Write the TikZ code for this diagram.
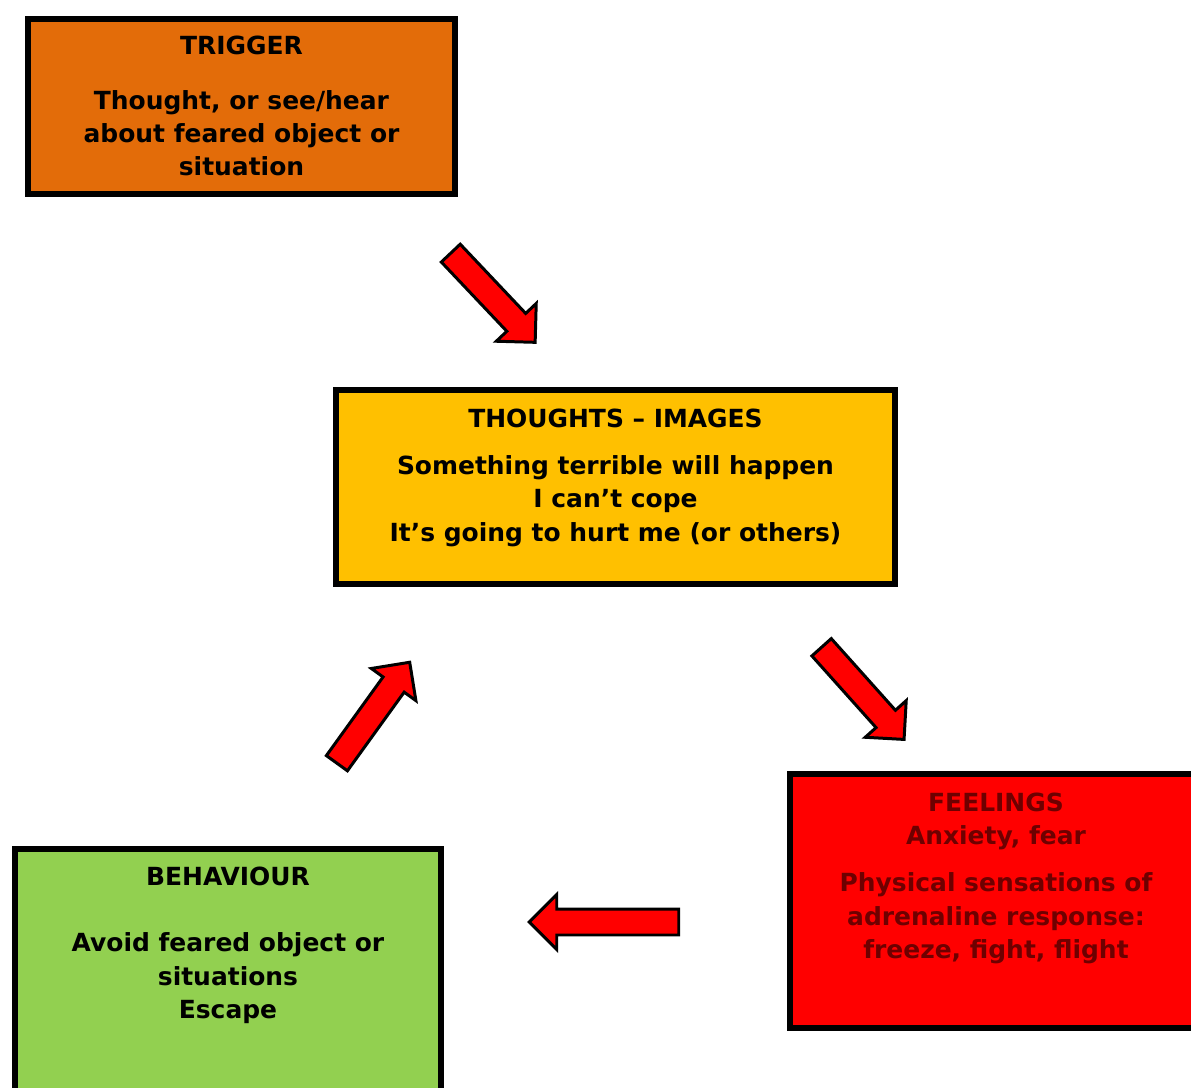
\documentclass[tikz,border=0pt]{standalone}
\usepackage{fontspec}
\setmainfont{DejaVu Sans}
\usetikzlibrary{calc,shapes.arrows}
\definecolor{trigorange}{HTML}{E36C09}
\definecolor{thoughtyellow}{HTML}{FFC000}
\definecolor{feelred}{HTML}{FF0000}
\definecolor{behavgreen}{HTML}{92D050}
\definecolor{feeltext}{HTML}{6E0000}
\tikzset{
	box/.style={rectangle,draw=black,line width=3.4pt,inner sep=0pt},
	txt/.style={anchor=north,align=center,inner sep=0pt,font=\bfseries\fontsize{14.2}{18.9}\selectfont},
	blockarrow/.style={single arrow,draw=black,fill=red,line width=1.7pt,inner xsep=0pt,inner ysep=0.23cm,
		single arrow head extend=0.29cm,single arrow head indent=0pt}
}
\begin{document}
\begin{tikzpicture}[x=0.02cm,y=-0.02cm,line join=miter]
		\useasboundingbox (0,0) rectangle (1191,1088);
		\clip (0,0) rectangle (1191,1088);
		% boxes
		\node[box,fill=trigorange,minimum width=8.54cm,minimum height=3.5cm] (trigger) at (241.5,106.5) {};
		\node[box,fill=thoughtyellow,minimum width=11.18cm,minimum height=3.88cm] (thoughts) at (615.5,487) {};
		\node[box,fill=feelred,minimum width=8.24cm,minimum height=5.08cm] (feelings) at (996,901) {};
		\node[box,fill=behavgreen,minimum width=8.52cm,minimum height=5.22cm] (behaviour) at (228,979.5) {};
		% texts
		\node[txt] (triggertxt) at (241.5,36) {TRIGGER\\[12pt]Thought, or see/hear\\about feared object or\\situation};
		\node[txt] (thoughtstxt) at (615.5,408.5) {THOUGHTS – IMAGES\\[8pt]Something terrible will happen\\I can’t cope\\It’s going to hurt me (or others)};
		\node[txt,text=feeltext] (feelingstxt) at (996,792.5) {FEELINGS\\Anxiety, fear\\[8pt]Physical sensations of\\adrenaline response:\\freeze, fight, flight};
		\node[txt] (behaviourtxt) at (228,866.5) {BEHAVIOUR\\[19pt]Avoid feared object or\\situations\\Escape};
		% arrows
		\coordinate (s1) at (445,247);   \coordinate (t1) at (532,339);
		\coordinate (s2) at (816,641);   \coordinate (t2) at (901,736);
		\coordinate (s3) at (687,922);   \coordinate (t3) at (534,922);
		\coordinate (s4) at (332,770);   \coordinate (t4) at (407,666);
		\foreach \i in {1,...,4}{
			\path let \p1=($(t\i)-(s\i)$),\n1={atan2(\y1,\x1)},\n2={veclen(\x1,\y1)-2pt} in
			node[blockarrow,minimum height=\n2,rotate=\n1] (arrow\i) at ($(s\i)!0.5!(t\i)$) {};
		}
\end{tikzpicture}
\end{document}
